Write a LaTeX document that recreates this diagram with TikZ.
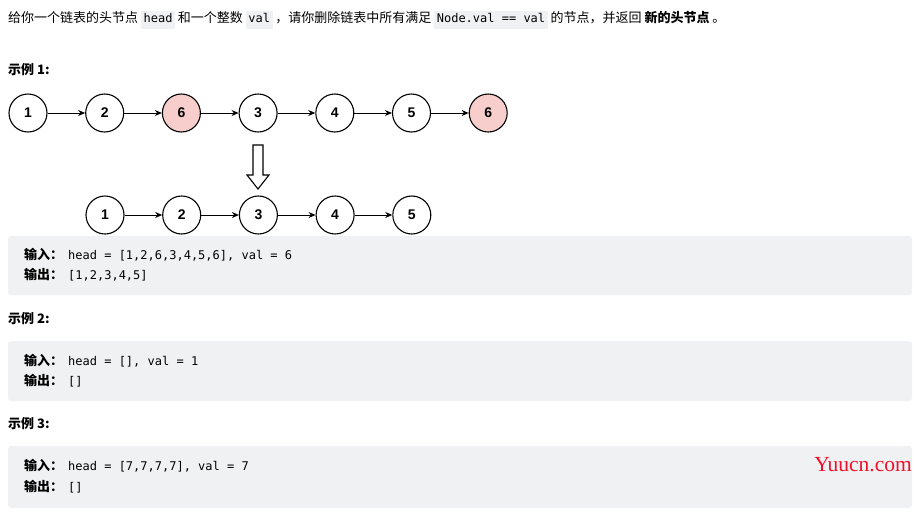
\documentclass[tikz,border=0pt]{standalone}
\usepackage{fontspec}
\setmainfont{Noto Sans CJK SC}
\setmonofont{DejaVu Sans Mono}
\newfontfamily\numfont{Liberation Sans}
\newfontfamily\markfont{Liberation Serif}
\usetikzlibrary{positioning,arrows.meta}
\definecolor{delred}{HTML}{F8CECC}
\definecolor{codebg}{HTML}{F0F1F3}
\definecolor{markred}{HTML}{F0102A}
\newcommand\codebox[1]{{\setlength\fboxsep{2.5pt}\colorbox{codebg}{\ttfamily\fontsize{12}{12}\selectfont\strut #1}}}
\newcommand\iolabel[1]{\makebox[44pt][l]{\fontsize{13}{13}\selectfont\bfseries #1}}
\tikzset{
  txt/.style={anchor=west, inner sep=0pt, font=\fontsize{13}{13}\selectfont},
  title/.style={txt, font=\fontsize{13}{13}\selectfont\bfseries},
  iobox/.style={fill=codebg, draw=none, rounded corners=3pt},
  io/.style={txt, font=\fontsize{12}{12}\selectfont}
}
\begin{document}
\begin{tikzpicture}[x=1pt, y=-1pt,
    lnode/.style={draw, circle, minimum size=38pt, inner sep=0pt, line width=1.1pt,
      font=\numfont\bfseries\fontsize{14}{14}\selectfont},
    hit/.style={lnode, fill=delred},
    link/.style={-{Stealth[length=7pt,width=6pt]}, line width=0.9pt},
    node distance=37.6pt]
 \useasboundingbox (0,0) rectangle (924,520);
    % task text
 \node[txt] (task) at (8,20) {给你一个链表的头节点 \codebox{head} 和一个整数 \codebox{val} ，请你删除链表中所有满足 \codebox{Node.val == val} 的节点，并返回 \textbf{新的头节点} 。};
    % example 1
 \node[title] (ex1) at (8,70) {示例 1:};
 \node[lnode] (a1) at (28,113) {1};
 \node[lnode, right=of a1] (a2) {2};
 \node[hit, right=of a2] (a3) {6};
 \node[lnode, right=of a3] (a4) {3};
 \node[lnode, right=of a4] (a5) {4};
 \node[lnode, right=of a5] (a6) {5};
 \node[hit, right=of a6] (a7) {6};
 \foreach \i/\j in {1/2,2/3,3/4,4/5,5/6,6/7}
    \draw[link] (a\i) -- (a\j);
 \node[lnode] (b1) at (105,215) {1};
 \node[lnode, right=of b1] (b2) {2};
 \node[lnode, right=of b2] (b3) {3};
 \node[lnode, right=of b3] (b4) {4};
 \node[lnode, right=of b4] (b5) {5};
 \foreach \i/\j in {1/2,2/3,3/4,4/5}
    \draw[link] (b\i) -- (b\j);
    % hollow arrow
 \draw[line width=1.1pt, fill=white] (253,145) -- (263,145) -- (263,175) -- (269,175)
    -- (258,189) -- (247,175) -- (253,175) -- cycle;
 \path[iobox] (8,236) rectangle (912,295);
 \node[io] (in1) at (24,255) {\iolabel{输入：}\texttt{head = [1,2,6,3,4,5,6], val = 6}};
 \node[io] (out1) at (24,275) {\iolabel{输出：}\texttt{[1,2,3,4,5]}};
    % example 2
 \node[title] (ex2) at (8,319) {示例 2:};
 \path[iobox] (8,341) rectangle (912,401);
 \node[io] (in2) at (24,361) {\iolabel{输入：}\texttt{head = [], val = 1}};
 \node[io] (out2) at (24,381) {\iolabel{输出：}\texttt{[]}};
    % example 3
 \node[title] (ex3) at (8,424) {示例 3:};
 \path[iobox] (8,446) rectangle (912,508);
 \node[io] (in3) at (24,466) {\iolabel{输入：}\texttt{head = [7,7,7,7], val = 7}};
 \node[io] (out3) at (24,487) {\iolabel{输出：}\texttt{[]}};
 \node[txt, anchor=base east, text=markred, font=\markfont\fontsize{21.5}{21.5}\selectfont] (mark) at (912,471) {Yuucn.com};
 \end{tikzpicture}
\end{document}
